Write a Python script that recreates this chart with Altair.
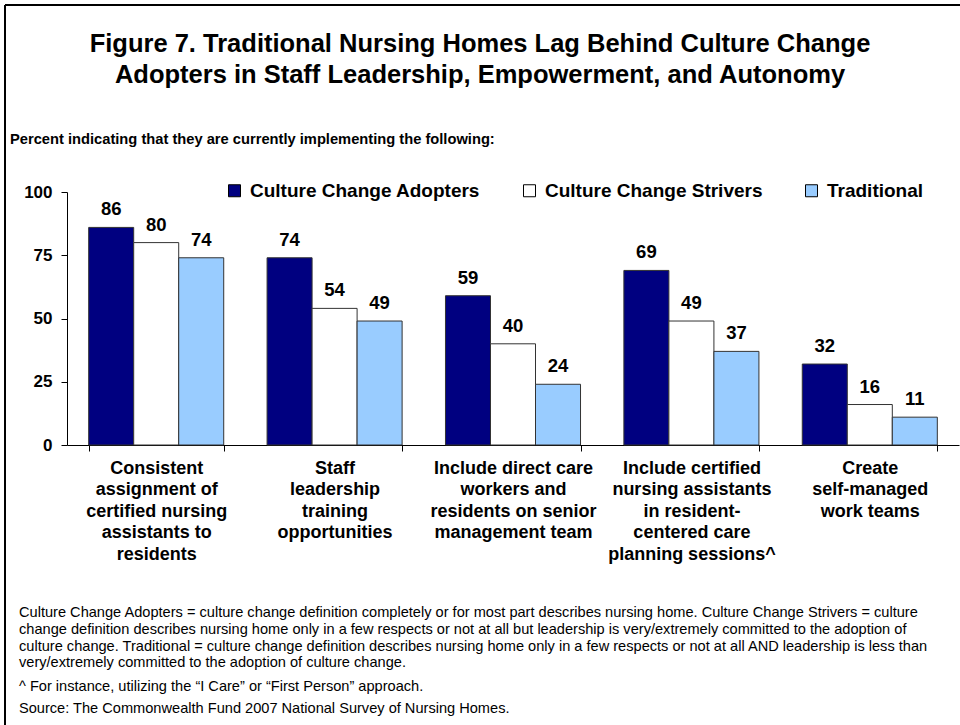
import altair as alt
import pandas as pd

FONT = "Liberation Sans"

# ---- data ----
categories = [
    "Consistent|assignment of|certified nursing|assistants to|residents",
    "Staff|leadership|training|opportunities",
    "Include direct care|workers and|residents on senior|management team",
    "Include certified|nursing assistants|in resident-|centered care|planning sessions^",
    "Create|self-managed|work teams",
]
groups = ["Culture Change Adopters", "Culture Change Strivers", "Traditional"]
adopters = [86, 74, 59, 69, 32]
strivers = [80, 54, 40, 49, 16]
traditional = [74, 49, 24, 37, 11]
colors = ["#000080", "#FFFFFF", "#99CCFF"]
y_ticks = [0, 25, 50, 75, 100]

title_lines = [
    "Figure 7. Traditional Nursing Homes Lag Behind Culture Change",
    "Adopters in Staff Leadership, Empowerment, and Autonomy",
]
subtitle = "Percent indicating that they are currently implementing the following:"
footnotes = [
    "Culture Change Adopters = culture change definition completely or for most part describes nursing home. Culture Change Strivers = culture",
    "change definition describes nursing home only in a few respects or not at all but leadership is very/extremely committed to the adoption of",
    "culture change. Traditional = culture change definition describes nursing home only in a few respects or not at all AND leadership is less than",
    "very/extremely committed to the adoption of culture change.",
    "^ For instance, utilizing the \u201cI Care\u201d or \u201cFirst Person\u201d approach.",
    "Source: The Commonwealth Fund 2007 National Survey of Nursing Homes.",
]

rows = []
for series_name, vals in zip(groups, [adopters, strivers, traditional]):
    for c, v in zip(categories, vals):
        rows.append({"category": c, "group": series_name, "value": v})
df = pd.DataFrame(rows)

# ---- layout (pixels) ----
PL, PT = 67, 192
W, H = 892, 253

x_enc = alt.X(
    "category:N",
    sort=categories,
    scale=alt.Scale(paddingInner=0.243, paddingOuter=0.1215),
    axis=alt.Axis(
        title=None,
        labelExpr="split(datum.label, '|')",
        labelAngle=0,
        labelFont=FONT,
        labelFontWeight="bold",
        labelFontSize=18,
        labelColor="black",
        labelLineHeight=21.5,
        labelBaseline="top",
        labelPadding=8,
        labelLimit=0,
        tickBand="extent",
        tickSize=6,
        tickColor="black",
        domainColor="black",
        grid=False,
    ),
)
xo_enc = alt.XOffset("group:N", sort=groups, scale=alt.Scale(paddingInner=0, paddingOuter=0))
y_enc = alt.Y(
    "value:Q",
    scale=alt.Scale(domain=[0, 100], nice=False),
    axis=alt.Axis(
        title=None,
        values=y_ticks,
        labelFont=FONT,
        labelFontWeight="bold",
        labelFontSize=17,
        labelColor="black",
        labelPadding=9,
        tickSize=6,
        tickColor="black",
        domainColor="black",
        grid=False,
    ),
)

bars = alt.Chart(df).mark_bar(stroke="#333333", strokeWidth=1).encode(
    x=x_enc,
    xOffset=xo_enc,
    y=y_enc,
    color=alt.Color(
        "group:N",
        sort=groups,
        scale=alt.Scale(domain=groups, range=colors),
        legend=alt.Legend(
            title=None,
            orient="none",
            legendX=158,
            legendY=-11,
            direction="horizontal",
            labelFont=FONT,
            labelFontWeight="bold",
            labelFontSize=19,
            labelColor="black",
            labelLimit=0,
            labelOffset=6,
            symbolType="square",
            symbolSize=144,
            symbolStrokeColor="black",
            symbolStrokeWidth=1,
            symbolOpacity=1,
            columnPadding=39,
            padding=0,
        ),
    ),
)

labels = alt.Chart(df).mark_text(
    font=FONT, fontWeight="bold", fontSize=18.5, color="black", dy=-12, baseline="alphabetic"
).encode(x=x_enc, xOffset=xo_enc, y=y_enc, text=alt.Text("value:Q"))

layers = [bars, labels]

one = pd.DataFrame({"t": [""]})

# frame (left and top edges)
layers.append(
    alt.Chart(one).mark_rule(color="black", strokeWidth=2).encode(
        x=alt.value(5 - PL), y=alt.value(5 - PT), y2=alt.value(725 - PT)
    )
)
layers.append(
    alt.Chart(one).mark_rule(color="black", strokeWidth=2).encode(
        x=alt.value(5 - PL), x2=alt.value(960 - PL), y=alt.value(5 - PT)
    )
)

# title
for i, line in enumerate(title_lines):
    layers.append(
        alt.Chart(pd.DataFrame({"t": [line]})).mark_text(
            font=FONT, fontWeight="bold", fontSize=25.5, color="black", align="center", baseline="alphabetic"
        ).encode(x=alt.value(480 - PL), y=alt.value(52 + 31 * i - PT), text="t:N")
    )

# subtitle
layers.append(
    alt.Chart(pd.DataFrame({"t": [subtitle]})).mark_text(
        font=FONT, fontWeight="bold", fontSize=14.7, color="black", align="left", baseline="alphabetic"
    ).encode(x=alt.value(10 - PL), y=alt.value(144 - PT), text="t:N")
)

# footnotes
foot_y = [617, 634, 650.5, 667, 691, 713]
for line, yy in zip(footnotes, foot_y):
    layers.append(
        alt.Chart(pd.DataFrame({"t": [line]})).mark_text(
            font=FONT, fontSize=14.6, color="black", align="left", baseline="alphabetic"
        ).encode(x=alt.value(19 - PL), y=alt.value(yy - PT), text="t:N")
    )

chart = (
    alt.layer(*layers)
    .properties(
        width=W,
        height=H,
        padding={"left": PL, "top": PT, "right": 960 - PL - W, "bottom": 725 - PT - H},
        autosize=alt.AutoSizeParams(type="none"),
        background="white",
    )
    .configure_view(stroke=None)
)

chart.save("out.html", embed_options={"renderer": "svg", "actions": False})
